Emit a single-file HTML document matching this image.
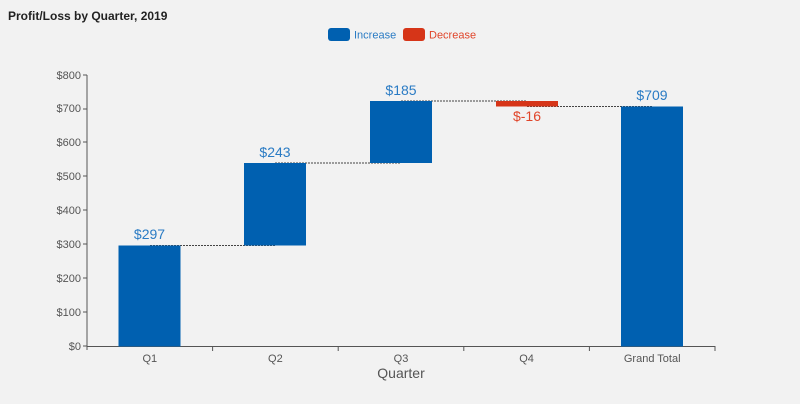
<!DOCTYPE html>
<html><head><style>
body{margin:0;background:#f2f2f2;}
svg{display:block;font-family:"Liberation Sans",sans-serif;}
</style></head><body>
<svg width="800" height="404" viewBox="0 0 800 404">
<rect width="800" height="404" fill="#f2f2f2"/>
<text x="8" y="20" font-size="12" font-weight="bold" fill="#222">Profit/Loss by Quarter, 2019</text>
<rect x="328" y="28" width="22" height="13" rx="3" fill="#0060b0"/>
<text x="354" y="38.5" font-size="11" fill="#2a7bc4">Increase</text>
<rect x="403" y="28" width="22" height="13" rx="3" fill="#d63518"/>
<text x="429" y="38.5" font-size="11" fill="#e0452a">Decrease</text>
<g font-size="11" fill="#555" text-anchor="end">
<text x="81" y="350">$0</text><text x="81" y="316">$100</text><text x="81" y="282">$200</text><text x="81" y="248">$300</text><text x="81" y="214">$400</text><text x="81" y="180">$500</text><text x="81" y="146">$600</text><text x="81" y="112">$700</text><text x="81" y="79">$800</text>
</g>
<g stroke="#555" stroke-width="1">
<line x1="87" y1="75" x2="87" y2="350"/>
<line x1="87" y1="346.5" x2="715" y2="346.5"/>
<line x1="83" y1="346" x2="87" y2="346"/><line x1="83" y1="312" x2="87" y2="312"/><line x1="83" y1="278" x2="87" y2="278"/><line x1="83" y1="244" x2="87" y2="244"/><line x1="83" y1="210" x2="87" y2="210"/><line x1="83" y1="176" x2="87" y2="176"/><line x1="83" y1="142" x2="87" y2="142"/><line x1="83" y1="109" x2="87" y2="109"/><line x1="83" y1="75" x2="87" y2="75"/>
<line x1="212.6" y1="346" x2="212.6" y2="351"/><line x1="338.2" y1="346" x2="338.2" y2="351"/><line x1="463.8" y1="346" x2="463.8" y2="351"/><line x1="589.4" y1="346" x2="589.4" y2="351"/><line x1="715" y1="346" x2="715" y2="351"/>
</g>
<g stroke="#444" stroke-width="1" stroke-dasharray="2,1">
<line x1="150" y1="245.5" x2="275" y2="245.5"/>
<line x1="275" y1="163" x2="401" y2="163"/>
<line x1="401" y1="101" x2="527" y2="101"/>
<line x1="527" y1="106.5" x2="652" y2="106.5"/>
</g>
<g fill="#0060b0">
<rect x="118.5" y="245.5" width="62" height="101"/>
<rect x="244" y="163" width="62" height="82.5"/>
<rect x="370" y="101" width="62" height="62"/>
<rect x="621" y="106.5" width="62" height="240"/>
</g>
<rect x="496" y="101" width="62" height="5.5" fill="#d63518"/>
<g font-size="14" fill="#2a7bc4" text-anchor="middle">
<text x="149.5" y="239">$297</text>
<text x="275" y="157">$243</text>
<text x="401" y="95">$185</text>
<text x="652" y="100">$709</text>
</g>
<text x="527" y="121" font-size="14" fill="#e0452a" text-anchor="middle">$-16</text>
<g font-size="11" fill="#555" text-anchor="middle">
<text x="149.8" y="362">Q1</text><text x="275.4" y="362">Q2</text><text x="401" y="362">Q3</text><text x="526.6" y="362">Q4</text><text x="652.2" y="362">Grand Total</text>
</g>
<text x="401" y="378" font-size="14" fill="#555" text-anchor="middle">Quarter</text>
</svg>
</body></html>
